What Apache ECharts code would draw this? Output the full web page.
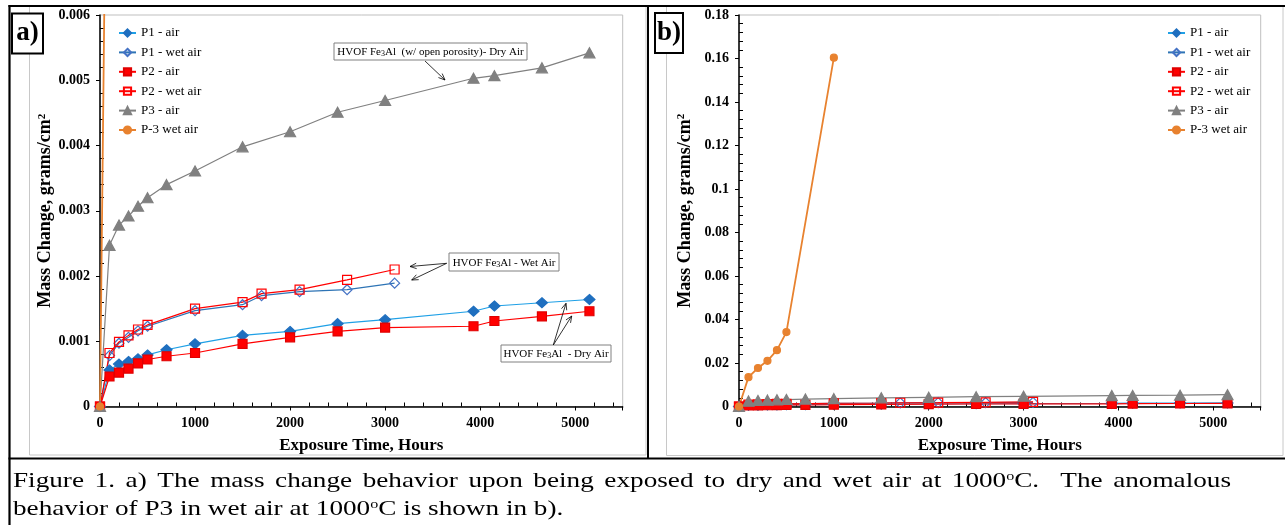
<!DOCTYPE html>
<html>
<head>
<meta charset="utf-8">
<script src="https://cdn.jsdelivr.net/npm/echarts@6/dist/echarts.min.js"></script>
<style>
html, body { margin: 0; padding: 0; background: #fff; }
#chart { width: 1285px; height: 525px; }
</style>
</head>
<body>
<div id="chart"></div>
<script>
// exposure times (hours)
const hoursDry = [0, 100, 200, 300, 400, 500, 700, 1000, 1500, 2000, 2500, 3000, 3930, 4150, 4650, 5150];
const hoursWet = [0, 100, 200, 300, 400, 500, 1000, 1500, 1700, 2100, 2600, 3100];
const hoursP3Wet = [0, 100, 200, 300, 400, 500, 1000];

// mass change, grams/cm2
const p1Air = [0, 0.00056, 0.00065, 0.00069, 0.00073, 0.00079, 0.00087, 0.00096, 0.00109, 0.00115, 0.00127, 0.00133, 0.00146, 0.00154, 0.00159, 0.00164];
const p2Air = [0, 0.00046, 0.00052, 0.00058, 0.00066, 0.00072, 0.00077, 0.00082, 0.00096, 0.00106, 0.00115, 0.00121, 0.00123, 0.00131, 0.00138, 0.00146];
const p3Air = [0, 0.00247, 0.00278, 0.00292, 0.00307, 0.0032, 0.0034, 0.00361, 0.00398, 0.00421, 0.00451, 0.00469, 0.00503, 0.00507, 0.00519, 0.00542];
const p1Wet = [0, 0.00078, 0.00097, 0.00106, 0.00116, 0.00123, 0.00147, 0.00156, 0.0017, 0.00176, 0.00179, 0.00189];
const p2Wet = [0, 0.00082, 0.00099, 0.00109, 0.00118, 0.00125, 0.0015, 0.0016, 0.00173, 0.00179, 0.00194, 0.0021];
const p3Wet = [0, 0.0135, 0.0177, 0.021, 0.0259, 0.0342, 0.1604];

const seriesNames = ['P1 - air', 'P1 - wet air', 'P2 - air', 'P2 - wet air', 'P3 - air', 'P-3 wet air'];

const captionLine1 = 'Figure 1. a) The mass change behavior upon being exposed to dry and wet air at 1000{sup|o}C.  The anomalous';
const captionLine2 = 'behavior of P3 in wet air at 1000{sup|o}C is shown in b).';

const FONT = "'Liberation Serif', 'Times New Roman', serif";
const chart = echarts.init(document.getElementById('chart'), null, { renderer: 'canvas' });

const pairs = (xs, ys) => xs.map((x, i) => [x, ys[i]]);

// look of each series (order = legend order)
const looks = [
  { x: hoursDry, y: p1Air, symbol: 'diamond', size: [11, 10], line: '#1FA0E6', fill: '#1F6FBF', border: '#1F6FBF' },
  { x: hoursWet, y: p1Wet, symbol: 'diamond', size: [10, 10], line: '#2E74B5', fill: 'rgba(255,255,255,0)', border: '#4472C4' },
  { x: hoursDry, y: p2Air, symbol: 'rect', size: 9, line: '#FF0000', fill: '#FF0000', border: '#E00000' },
  { x: hoursWet, y: p2Wet, symbol: 'rect', size: 9, line: '#FF0000', fill: 'rgba(255,255,255,0)', border: '#FF0000' },
  { x: hoursDry, y: p3Air, symbol: 'triangle', size: [11, 10], line: '#808080', fill: '#808080', border: '#808080' },
  { x: hoursP3Wet, y: p3Wet, symbol: 'circle', size: 7, line: '#E8822F', fill: '#E8822F', border: '#E8822F' }
];

const makeSeries = (gridIdx) => looks.map((s, i) => ({
  name: seriesNames[i],
  type: 'line',
  xAxisIndex: gridIdx,
  yAxisIndex: gridIdx,
  data: pairs(s.x, s.y),
  symbol: s.symbol,
  symbolSize: s.size,
  showAllSymbol: true,
  clip: true,
  lineStyle: { color: s.line, width: i === 5 ? 1.8 : 1.2 },
  itemStyle: { color: s.fill, borderColor: s.border, borderWidth: 1.2 },
  emphasis: { disabled: true }
}));

const xAxisBase = (gridIdx) => ({
  type: 'value',
  gridIndex: gridIdx,
  min: 0,
  max: 5500,
  interval: 1000,
  name: 'Exposure Time, Hours',
  nameLocation: 'middle',
  nameGap: 31,
  nameTextStyle: { fontFamily: FONT, fontWeight: 'bold', fontSize: 17, color: '#000' },
  axisLine: { onZero: false, lineStyle: { color: '#000', width: 1.5 } },
  axisTick: { length: 4, lineStyle: { color: '#000' } },
  minorTick: { show: true, splitNumber: 5, length: -4, lineStyle: { color: '#000' } },
  axisLabel: {
    showMaxLabel: false, margin: 10, fontFamily: FONT, fontWeight: 'bold', fontSize: 14, color: '#000',
    formatter: v => String(v)
  },
  splitLine: { show: false }
});

const yAxisBase = (gridIdx, max, step) => ({
  type: 'value',
  gridIndex: gridIdx,
  min: 0,
  max: max,
  interval: step,
  name: '{t|Mass Change, grams/cm}{s|2}',
  nameLocation: 'middle',
  nameGap: 45,
  nameTextStyle: {
    color: '#000',
    rich: {
      t: { fontFamily: FONT, fontWeight: 'bold', fontSize: 18, color: '#000' },
      s: { fontFamily: FONT, fontWeight: 'bold', fontSize: 11, color: '#000', verticalAlign: 'top' }
    }
  },
  axisLine: { lineStyle: { color: '#000', width: 1.5 } },
  axisTick: { length: 4, lineStyle: { color: '#000' } },
  minorTick: { show: true, splitNumber: 5, length: -4, lineStyle: { color: '#000' } },
  axisLabel: { margin: 10, fontFamily: FONT, fontWeight: 'bold', fontSize: 14, color: '#000' },
  splitLine: { show: false }
});

const legendBase = (left) => ({
  data: seriesNames,
  orient: 'vertical',
  left: left,
  top: 26,
  padding: 0,
  itemGap: 5.4,
  itemWidth: 17,
  itemHeight: 9,
  selectedMode: false,
  textStyle: { fontFamily: FONT, fontSize: 13, color: '#000', lineHeight: 14 }
});

// --- frame, panel labels, annotations, caption ---
function arrow(x1, y1, x2, y2) {
  const a = Math.atan2(y2 - y1, x2 - x1), L = 7, w = 0.4;
  return [
    { type: 'line', z: 10, shape: { x1, y1, x2, y2 }, style: { stroke: '#000', lineWidth: 0.8 } },
    { type: 'polyline', z: 10, shape: { points: [
        [x2 - L * Math.cos(a - w), y2 - L * Math.sin(a - w)], [x2, y2],
        [x2 - L * Math.cos(a + w), y2 - L * Math.sin(a + w)] ] },
      style: { stroke: '#000', fill: null, lineWidth: 0.8 } }
  ];
}

function noteBox(x, y, w, h, text) {
  return [
    { type: 'rect', z: 10, shape: { x, y, width: w, height: h }, style: { fill: '#fff', stroke: '#808080', lineWidth: 1 } },
    { type: 'text', z: 11, style: {
        x: x + w / 2, y: y + h / 2 + 1, align: 'center', verticalAlign: 'middle',
        text: text, fontFamily: FONT, fontSize: 11, fill: '#000',
        rich: { sub: { fontFamily: FONT, fontSize: 8, fill: '#000', verticalAlign: 'bottom' } }
      } }
  ];
}

function panelLabel(x, y, w, h, text) {
  return [
    { type: 'rect', z: 10, shape: { x, y, width: w, height: h }, style: { fill: '#fff', stroke: '#000', lineWidth: 2 } },
    { type: 'text', z: 11, style: {
        x: x + w / 2, y: y + h / 2, align: 'center', verticalAlign: 'middle',
        text: text, fontFamily: FONT, fontWeight: 'bold', fontSize: 27, fill: '#000' } }
  ];
}

// caption: the figure is stretched sideways, and line 1 is justified
const CAP_SIZE = 22, SUP_SIZE = 13, CAP_SCALE = 1.236, CAP_LEFT = 13, CAP_RIGHT = 1231;
const captionRich = { sup: { fontFamily: FONT, fontSize: SUP_SIZE, fill: '#000', verticalAlign: 'top' } };
const mctx = document.createElement('canvas').getContext('2d');
function measure(word) {
  let w = 0;
  word.split(/(\{sup\|[^}]*\})/).forEach(part => {
    const m = part.match(/^\{sup\|([^}]*)\}$/);
    mctx.font = (m ? SUP_SIZE : CAP_SIZE) + 'px ' + FONT;
    w += mctx.measureText(m ? m[1] : part).width;
  });
  return w;
}
function captionText(x, y, text) {
  return { type: 'text', z: 20, x: x, y: y, scaleX: CAP_SCALE, style: {
      x: 0, y: 0, verticalAlign: 'middle', fontFamily: FONT, fontSize: CAP_SIZE, fill: '#000',
      text: text, rich: captionRich } };
}
function justifiedLine(text, y) {
  const words = text.split(' ');
  mctx.font = CAP_SIZE + 'px ' + FONT;
  const spaceW = mctx.measureText(' ').width * CAP_SCALE;
  const widths = words.map(w => measure(w) * CAP_SCALE);
  const gaps = words.length - 1;
  const natural = widths.reduce((a, b) => a + b, 0) + gaps * spaceW;
  const extra = (CAP_RIGHT - CAP_LEFT - natural) / gaps;
  const out = [];
  let x = CAP_LEFT;
  words.forEach((w, i) => {
    if (w) out.push(captionText(x, y, w));
    x += widths[i] + spaceW + extra;
  });
  return out;
}

const graphic = [
  // chart-area borders
  { type: 'rect', z: 0, shape: { x: 29.5, y: 6, width: 616.5, height: 449 }, style: { fill: null, stroke: '#c8c8c8', lineWidth: 1 } },
  { type: 'rect', z: 0, shape: { x: 666.5, y: 6, width: 616.5, height: 449.5 }, style: { fill: null, stroke: '#c8c8c8', lineWidth: 1 } },
  // black table frame
  { type: 'line', z: 20, shape: { x1: 8.5, y1: 6, x2: 1285, y2: 6 }, style: { stroke: '#000', lineWidth: 2 } },
  { type: 'line', z: 20, shape: { x1: 9.5, y1: 5, x2: 9.5, y2: 525 }, style: { stroke: '#000', lineWidth: 2.2 } },
  { type: 'line', z: 20, shape: { x1: 648, y1: 5, x2: 648, y2: 459 }, style: { stroke: '#000', lineWidth: 2 } },
  { type: 'line', z: 20, shape: { x1: 8.5, y1: 458.5, x2: 1285, y2: 458.5 }, style: { stroke: '#000', lineWidth: 2 } },
  ...panelLabel(12, 13.5, 31, 40, 'a)'),
  ...panelLabel(655, 13, 28, 40, 'b)'),
  ...noteBox(334, 43, 193, 17, 'HVOF Fe{sub|3}Al  (w/ open porosity)- Dry Air'),
  ...arrow(425, 61, 445, 80),
  ...noteBox(449, 253, 110, 18, 'HVOF Fe{sub|3}Al - Wet Air'),
  ...arrow(446.7, 263.3, 410, 266.5),
  ...arrow(446.7, 263.3, 411.7, 280),
  ...noteBox(501, 345, 110, 17, 'HVOF Fe{sub|3}Al  - Dry Air'),
  ...arrow(553.3, 345, 566, 303.3),
  ...arrow(553.3, 345, 571.7, 316),
  ...justifiedLine(captionLine1, 481),
  captionText(CAP_LEFT, 509, captionLine2)
];

const option = {
  animation: false,
  backgroundColor: '#fff',
  grid: [
    { left: 100, top: 15, width: 522.7, height: 391.5, show: true, borderColor: '#bfbfbf', borderWidth: 1, backgroundColor: 'transparent' },
    { left: 739, top: 15, width: 521.7, height: 391.5, show: true, borderColor: '#bfbfbf', borderWidth: 1, backgroundColor: 'transparent' }
  ],
  xAxis: [xAxisBase(0), xAxisBase(1)],
  yAxis: [yAxisBase(0, 0.006, 0.001), yAxisBase(1, 0.18, 0.02)],
  legend: [legendBase(118), legendBase(1167)],
  series: [...makeSeries(0), ...makeSeries(1)],
  graphic: graphic
};

chart.setOption(option);
</script>
</body>
</html>
